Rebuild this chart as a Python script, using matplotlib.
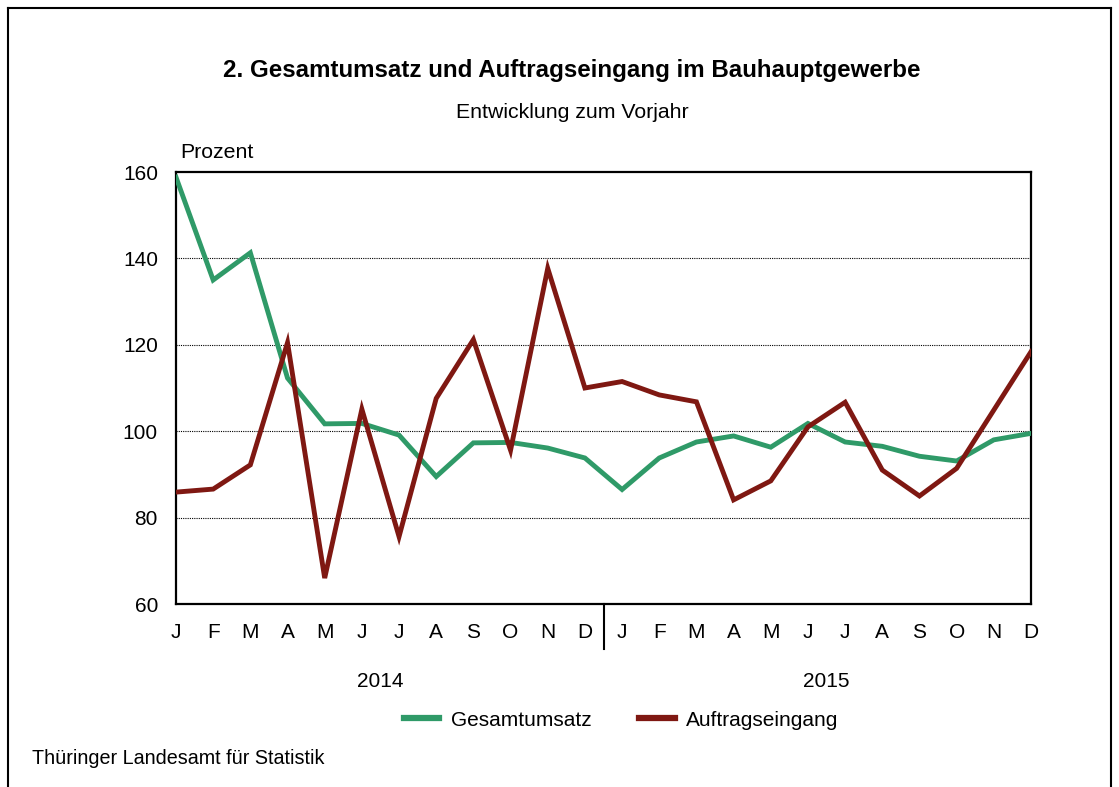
import matplotlib.pyplot as plt
from matplotlib.lines import Line2D

plt.rcParams['font.family'] = ['Liberation Sans', 'DejaVu Sans']

months = ['J', 'F', 'M', 'A', 'M', 'J', 'J', 'A', 'S', 'O', 'N', 'D'] * 2
years = ['2014', '2015']
gesamtumsatz = [158.8, 135.0, 141.3, 112.3, 101.7, 101.8, 99.1, 89.5, 97.3, 97.4, 96.1, 93.8,
                86.5, 93.8, 97.5, 98.9, 96.3, 101.8, 97.5, 96.5, 94.2, 93.1, 98.0, 99.5]
auftragseingang = [85.9, 86.6, 92.2, 120.5, 66.0, 105.1, 75.6, 107.6, 121.2, 95.6, 137.7, 110.0,
                   111.5, 108.4, 106.8, 84.1, 88.5, 101.0, 106.7, 91.0, 85.0, 91.4, 104.9, 118.4]
yticks = [60, 80, 100, 120, 140, 160]

green = '#2f9a68'
red = '#7f1812'
fs = 15

fig = plt.figure(figsize=(11.19, 7.87), dpi=100)
ax = fig.add_axes([176 / 1119, 1 - 604 / 787, (1031 - 176) / 1119, (604 - 172) / 787])

x = list(range(len(months)))
ax.plot(x, gesamtumsatz, color=green, linewidth=3.5, solid_joinstyle='miter', zorder=3)
ax.plot(x, auftragseingang, color=red, linewidth=3.5, solid_joinstyle='miter', zorder=4)

ax.set_xlim(0, 23)
ax.set_ylim(60, 160)
ax.set_yticks(yticks)
ax.set_yticklabels([str(v) for v in yticks], fontsize=fs)
ax.set_xticks(x)
ax.set_xticklabels(months, fontsize=fs)
ax.tick_params(axis='both', length=0)
ax.tick_params(axis='y', pad=13)
ax.tick_params(axis='x', pad=14)
for s in ax.spines.values():
    s.set_linewidth(1.6)
    s.set_color('black')

for v in yticks[1:-1]:
    ax.axhline(v, color='black', linewidth=0.8, linestyle=(0, (1, 1)), zorder=1)

# year separator and year labels
ax.plot([11.5, 11.5], [0, -0.105], transform=ax.get_xaxis_transform(),
        color='black', linewidth=1.5, clip_on=False)
ax.text(5.5, -0.18, years[0], transform=ax.get_xaxis_transform(),
        ha='center', va='center', fontsize=fs)
ax.text(17.5, -0.18, years[1], transform=ax.get_xaxis_transform(),
        ha='center', va='center', fontsize=fs)

fig.text(572 / 1119, 1 - 71 / 787, '2. Gesamtumsatz und Auftragseingang im Bauhauptgewerbe',
         ha='center', va='center', fontsize=17.4, fontweight='bold')
fig.text(572 / 1119, 1 - 112 / 787, 'Entwicklung zum Vorjahr',
         ha='center', va='center', fontsize=15.3)
fig.text(180 / 1119, 1 - 153 / 787, 'Prozent', ha='left', va='center', fontsize=15.3)
fig.text(32 / 1119, 1 - 758 / 787, 'Thüringer Landesamt für Statistik',
         ha='left', va='center', fontsize=14.2)

handles = [Line2D([], [], color=green, linewidth=4.5),
           Line2D([], [], color=red, linewidth=4.5)]
fig.legend(handles, ['Gesamtumsatz', 'Auftragseingang'], loc='center',
           bbox_to_anchor=(621 / 1119, 1 - 720 / 787), ncol=2, frameon=False,
           fontsize=fs, handlelength=1.7, columnspacing=2.3, handletextpad=0.55)

# outer frame (open at the bottom)
frame = dict(color='black', linewidth=1.5, transform=fig.transFigure)
fig.add_artist(Line2D([8 / 1119, 8 / 1119], [0, 1 - 8 / 787], **frame))
fig.add_artist(Line2D([8 / 1119, 1111 / 1119], [1 - 8 / 787, 1 - 8 / 787], **frame))
fig.add_artist(Line2D([1111 / 1119, 1111 / 1119], [0, 1 - 8 / 787], **frame))

fig.savefig('out.png', dpi=100)
